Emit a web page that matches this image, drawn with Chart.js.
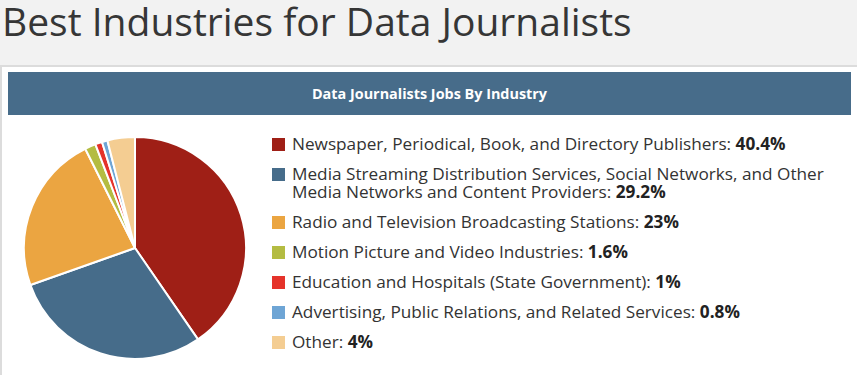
<!DOCTYPE html>
<html>
<head>
<meta charset="utf-8">
<script src="https://cdn.jsdelivr.net/npm/chart.js@4"></script>
<style>
  html, body { margin: 0; padding: 0; }
  body { width: 857px; height: 375px; background: #f2f2f2; overflow: hidden; position: relative; font-family: "Open Sans", sans-serif; }
  #title { position: absolute; left: 2px; top: 0px; margin: 0; font-size: 39px; line-height: 42px; font-weight: 400; color: #363636; white-space: nowrap; }
  #panel { position: absolute; left: 0; top: 65px; width: 870px; height: 320px; background: #fff; border-left: 2px solid #dcdcdc; border-top: 2px solid #dcdcdc; box-sizing: border-box; }
  #header { position: absolute; left: 8px; top: 72px; width: 843px; height: 43px; background: #476c8a; color: #fff; font-weight: 700; font-size: 14.4px; display: flex; align-items: center; justify-content: center; }
  #header span { display: inline-block; }
  #pieBox { position: absolute; left: 21px; top: 134px; width: 228px; height: 228px; }
  #legend { position: absolute; left: 272px; top: 135px; width: 585px; }
  .item { position: relative; padding-left: 20px; font-size: 17.2px; line-height: 18px; color: #333; margin-bottom: 12px; }
  .sw { position: absolute; left: 0; top: 3px; width: 13px; height: 13px; }
  .item b { color: #222; }
</style>
</head>
<body>
<h1 id="title">Best Industries for Data Journalists</h1>
<div id="panel"></div>
<div id="header"><span>Data Journalists Jobs By Industry</span></div>
<div id="pieBox"><canvas id="pie" width="228" height="228"></canvas></div>
<div id="legend"></div>
<script>
const categories = [
  "Newspaper, Periodical, Book, and Directory Publishers",
  "Media Streaming Distribution Services, Social Networks, and Other Media Networks and Content Providers",
  "Radio and Television Broadcasting Stations",
  "Motion Picture and Video Industries",
  "Education and Hospitals (State Government)",
  "Advertising, Public Relations, and Related Services",
  "Other"
];
const shares = [40.4, 29.2, 23, 1.6, 1, 0.8, 4];
const valueLabels = ["40.4%", "29.2%", "23%", "1.6%", "1%", "0.8%", "4%"];
const colors = ["#9f1f16", "#466c8a", "#eba541", "#b4bc42", "#e5332a", "#6ea5d5", "#f4cd92"];

const legend = document.getElementById('legend');
categories.forEach((c, i) => {
  const d = document.createElement('div');
  d.className = 'item';
  d.innerHTML = '<span class="sw" style="background:' + colors[i] + '"></span>' + c + ': <b>' + valueLabels[i] + '</b>';
  legend.appendChild(d);
});

new Chart(document.getElementById('pie'), {
  type: 'pie',
  data: {
    labels: categories,
    datasets: [{ data: shares, backgroundColor: colors, borderColor: '#ffffff', borderWidth: 2 }]
  },
  options: {
    responsive: false,
    animation: false,
    layout: { padding: 2 },
    plugins: { legend: { display: false }, tooltip: { enabled: false } }
  }
});
</script>
</body>
</html>
